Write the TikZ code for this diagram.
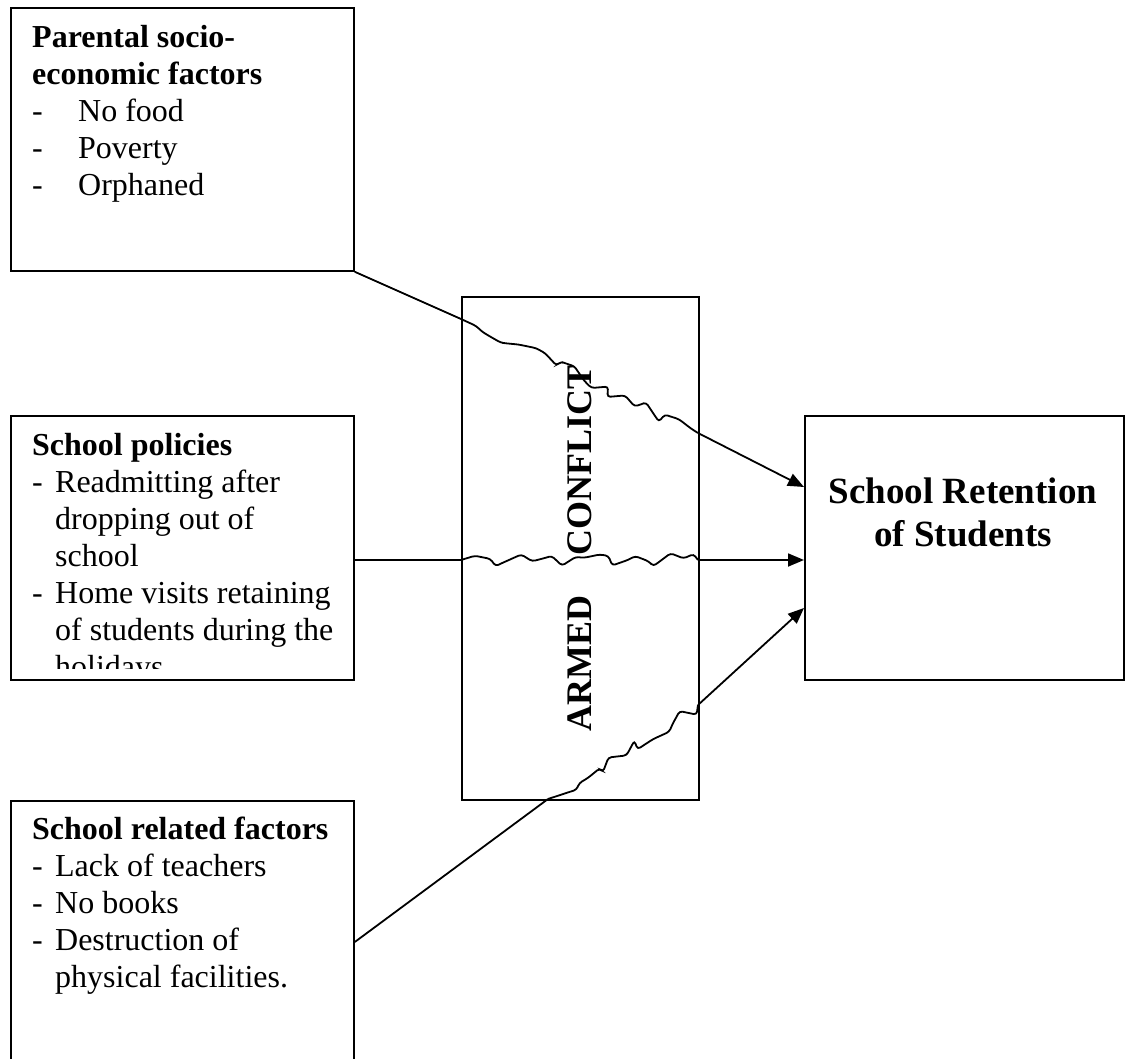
\documentclass[tikz,border=0pt]{standalone}
\usepackage{fontspec}
\setmainfont{Liberation Serif}
\usetikzlibrary{arrows.meta,decorations.pathmorphing,calc}

\newcommand{\dashitem}[2][23pt]{\makebox[#1][l]{-}#2}
\newcommand{\hangon}[1]{\hspace*{23pt}#1}

\tikzset{
  box/.style={draw, line width=1.8pt, inner sep=0pt, anchor=north west},
  boxtext/.style={anchor=north west, inner sep=0pt, align=left, font=\fontsize{32}{37}\selectfont},
  link/.style={line width=1.8pt},
  rough/.style={line width=1.8pt, decorate, rounded corners=3pt,
    decoration={random steps, segment length=11pt, amplitude=8pt}},
  into/.style={line width=1.8pt, -{Triangle[length=16pt,width=13pt]}},
}

\begin{document}
\begin{tikzpicture}[x=1pt,y=-1pt]
\pgfmathsetseed{11}
\clip (0,0) rectangle (1125,1059);

\node[box, minimum width=343pt, minimum height=263pt] (parent) at (10,7) {};
\node[box, minimum width=343pt, minimum height=264pt] (policy) at (10,415) {};
\node[box, minimum width=343pt, minimum height=300pt] (related) at (10,800) {};
\node[box, minimum width=237pt, minimum height=503pt] (conflict) at (461,296) {};
\node[box, minimum width=319pt, minimum height=264pt] (retention) at (804,415) {};

\node[boxtext] (parenttext) at (32,25) {%
\textbf{Parental socio-}\\
\textbf{economic factors}\\
\dashitem[46pt]{No food}\\
\dashitem[46pt]{Poverty}\\
\dashitem[46pt]{Orphaned}};

\begin{scope}
\clip (10,415) rectangle (353,668);
\node[boxtext] (policytext) at (32,433) {%
\textbf{School policies}\\
\dashitem{Readmitting after}\\
\hangon{dropping out of}\\
\hangon{school}\\
\dashitem{Home visits retaining}\\
\hangon{of students during the}\\
\hangon{holidays}};
\end{scope}

\node[boxtext] (relatedtext) at (32,817) {%
\textbf{School related factors}\\
\dashitem{Lack of teachers}\\
\dashitem{No books}\\
\dashitem{Destruction of}\\
\hangon{physical facilities.}};

\node[anchor=north, inner sep=0pt, align=center,
  font=\fontsize{37}{43}\selectfont\bfseries] (retentiontext) at (963,478)
  {School Retention\\of Students};

\node[rotate=90, inner sep=0pt, font=\fontsize{36}{40}\selectfont\bfseries]
  (conflicttext) at (580,548) {ARMED\hspace{40pt}CONFLICT};

\coordinate (inA) at (461,319);
\coordinate (outA) at (698,433);
\coordinate (tipA) at (804,487);
\coordinate (inB) at (461,560);
\coordinate (outB) at (698,560);
\coordinate (tipB) at (804,560);
\coordinate (inC) at (548,799);
\coordinate (outC) at (698,705);
\coordinate (tipC) at (804,608);

\draw[link] (parent.south east) -- (inA);
\draw[rough] (inA) -- (outA);
\draw[into] (outA) -- (tipA);

\draw[link] (policy.east |- inB) -- (inB);
\draw[rough] (inB) -- (outB);
\draw[into] (outB) -- (tipB);

\draw[link] (related.east |- 0,942) -- (inC);
\draw[rough] (inC) -- (outC);
\draw[into] (outC) -- (tipC);
\end{tikzpicture}
\end{document}
